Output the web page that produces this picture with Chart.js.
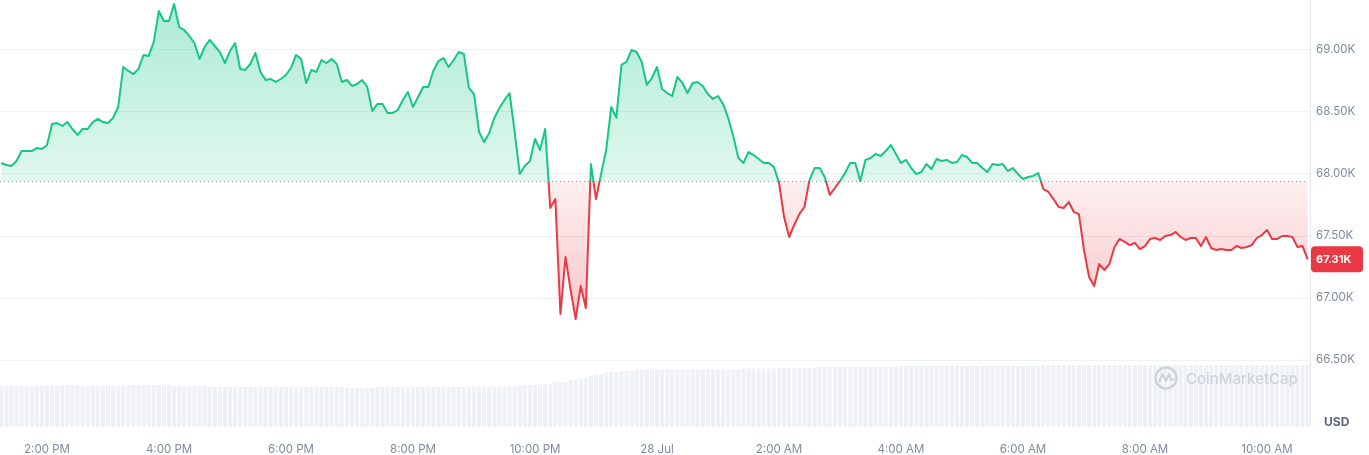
<!DOCTYPE html>
<html>
<head>
<meta charset="utf-8">
<script src="https://cdn.jsdelivr.net/npm/chart.js@4/dist/chart.umd.min.js"></script>
<style>
  html, body { margin: 0; padding: 0; background: #fff; }
  #wrap { width: 1369px; height: 455px; position: relative; }
</style>
</head>
<body>
<div id="wrap"><canvas id="priceChart"></canvas></div>
<script>
// BTC price, 5 minute samples from 13:15 (27 Jul) to 10:40 (28 Jul)
const startHour = 13.25;      // hours after 12:00 on 27 Jul
const stepHours = 5 / 60;
const baselinePrice = 67944;  // price 24h ago (dotted line)

const prices = [
  68089, 68073, 68065, 68105, 68185, 68185, 68185, 68210, 68202, 68234, 68403, 68411, 68387, 68419, 68363,
  68315, 68363, 68363, 68419, 68444, 68419, 68411, 68452, 68540, 68863, 68831, 68806, 68847, 68960, 68952,
  69064, 69314, 69234, 69234, 69371, 69185, 69161, 69113, 69056, 68927, 69024, 69081, 69032, 68984,
  68895, 68992, 69056, 68847, 68839, 68887, 68976, 68823, 68758, 68766, 68742, 68766, 68798, 68855, 68960,
  68927, 68734, 68839, 68823, 68919, 68895, 68927, 68887, 68742, 68758, 68710, 68726, 68758, 68702, 68508,
  68565, 68565, 68492, 68492, 68516, 68597, 68661, 68540, 68621, 68702, 68702, 68831,
  68911, 68935, 68863, 68919, 68984, 68968, 68694, 68645, 68339, 68258, 68331, 68452, 68532, 68597, 68653,
  68339, 68000, 68065, 68105, 68282, 68194, 68363, 67726, 67798, 66871, 67331, 67065, 66831, 67097, 66919,
  68081, 67798, 68000, 68194, 68540, 68452, 68879, 68903, 69000, 68984, 68903, 68718,
  68774, 68863, 68685, 68653, 68629, 68782, 68734, 68653, 68734, 68742, 68710, 68645, 68605, 68629, 68565,
  68452, 68306, 68129, 68089, 68177, 68153, 68121, 68089, 68089, 68056, 67930, 67653, 67492, 67589, 67677,
  67734, 67952, 68048, 68048, 67976, 67831, 67887, 67944, 68008, 68089, 68089, 67944, 68113,
  68129, 68161, 68145, 68185, 68234, 68161, 68089, 68113, 68048, 68000, 68016, 68081, 68040, 68121, 68105,
  68113, 68089, 68097, 68153, 68137, 68089, 68089, 68048, 68016, 68081, 68073, 68081, 68024, 68048, 68000,
  67960, 67976, 67984, 68008, 67879, 67855, 67798, 67734, 67726, 67774, 67694, 67677,
  67387, 67169, 67097, 67274, 67226, 67274, 67411, 67476, 67452, 67427, 67444, 67395, 67419, 67476, 67484,
  67468, 67500, 67508, 67532, 67492, 67468, 67484, 67484, 67419, 67492, 67403, 67387, 67395, 67387, 67387,
  67419, 67403, 67411, 67427, 67484, 67508, 67548, 67476, 67476, 67500, 67500, 67492, 67411, 67419, 67312
];

// 24h volume (billions USD), one bar per sample
const volumes = [
  20.5, 20.5, 20.5, 20.5, 20.5, 20.5, 20.5, 20.5, 20.5, 20.5, 20.5, 20.5,
  21.0, 21.0, 21.0, 21.0, 20.5, 20.5, 20.5, 20.5, 20.5, 20.5, 20.5, 20.5,
  21.0, 21.0, 21.0, 21.0, 21.0, 21.0, 21.0, 21.0, 21.0, 21.0, 20.5, 20.5, 20.5, 20.5, 20.5, 20.5, 20.5,
  20.0, 20.0, 20.0, 20.0, 20.0, 20.0, 20.0, 20.0, 20.0, 20.0, 20.0, 20.0, 20.0, 20.0,
  20.0, 20.0, 20.0, 20.0, 20.0, 20.0, 20.0, 20.0, 20.0, 20.0, 20.0, 20.0, 20.0, 20.0,
  19.5, 19.5, 19.5, 19.5, 19.5,
  20.0, 20.0, 20.0, 20.0, 20.0, 20.0, 20.0, 20.0, 20.0, 20.0, 20.0, 20.0, 20.0, 20.0, 20.0, 20.0, 20.0, 20.0, 20.0, 20.0,
  20.2, 20.2, 20.2, 20.2, 20.2, 20.2, 20.2, 20.2, 20.8, 20.8, 21.0, 21.0, 21.0, 21.4, 21.4,
  22.6, 22.6, 22.6, 23.6, 23.6, 24.6, 24.6, 25.3, 26.4, 26.4, 27.4, 27.4, 27.4, 28.0, 28.0, 28.0,
  28.8, 28.8, 28.8, 28.8, 28.8, 28.8, 28.8, 28.8, 28.8, 28.8, 28.8, 28.8, 28.8, 28.8, 28.8, 28.8, 28.8, 28.8, 28.8, 28.8, 28.8,
  29.3, 29.3, 29.3, 29.3, 29.3, 29.3, 29.3, 29.3, 29.6, 29.6, 29.6, 29.6, 29.6, 29.6, 29.6,
  30.3, 30.3, 30.3, 30.3, 30.3, 30.3, 30.3, 30.3, 30.3, 30.3, 30.3, 30.3, 30.3, 30.3, 30.3, 30.3,
  30.6, 30.6, 30.6, 30.6, 30.6, 30.6, 30.6, 30.6, 30.6, 30.6, 30.6, 30.6, 30.6, 30.6,
  30.6, 30.6, 30.6, 30.6, 30.6, 30.6, 30.6, 30.6, 30.6, 30.6, 30.6, 30.6, 30.6, 30.6,
  31.0, 31.0, 31.0, 31.0, 31.0, 31.0, 31.0, 31.0, 31.0, 31.0, 31.0, 31.0, 31.0, 31.0, 31.0, 31.0, 31.0, 31.0,
  31.0, 31.0, 31.0, 31.0, 31.0, 31.0, 31.0, 31.0, 31.0, 31.0, 31.0, 31.0, 31.0, 31.0, 31.0, 31.0, 31.0, 31.0,
  31.0, 31.0, 31.0, 31.0, 31.0, 31.0, 31.0, 31.0, 31.0, 31.0, 31.0, 31.0, 31.0, 31.0, 31.0, 31.0, 31.0
];

const times = prices.map((_, i) => startHour + i * stepHours);

const xTickHours = [14, 16, 18, 20, 22, 24, 26, 28, 30, 32, 34];
const xTickLabels = ['2:00 PM', '4:00 PM', '6:00 PM', '8:00 PM', '10:00 PM', '28 Jul',
                     '2:00 AM', '4:00 AM', '6:00 AM', '8:00 AM', '10:00 AM'];
const yTicks = [66500, 67000, 67500, 68000, 68500, 69000];

const GREEN = '#16c784';
const RED = '#ea3943';
const TEXT = '#808a9d';

function kLabel(v) {
    return (v / 1000).toFixed(2) + 'K';
}

// hard colour switch at the baseline
function baselineFrac(chart) {
    const area = chart.chartArea;
    const yb = chart.scales.y.getPixelForValue(baselinePrice);
    return Math.min(Math.max((yb - area.top) / (area.bottom - area.top), 0), 1);
}

function lineGradient(context) {
    const chart = context.chart;
    if (!chart.chartArea) return GREEN;
    const { ctx, chartArea } = chart;
    const f = baselineFrac(chart);
    const g = ctx.createLinearGradient(0, chartArea.top, 0, chartArea.bottom);
    g.addColorStop(0, GREEN);
    g.addColorStop(f, GREEN);
    g.addColorStop(f, RED);
    g.addColorStop(1, RED);
    return g;
}

function fillGradient(context) {
    const chart = context.chart;
    if (!chart.chartArea) return 'rgba(22,199,132,0.2)';
    const { ctx, chartArea } = chart;
    const f = baselineFrac(chart);
    const g = ctx.createLinearGradient(0, chartArea.top, 0, chartArea.bottom);
    g.addColorStop(0, 'rgba(22,199,132,0.36)');
    g.addColorStop(f, 'rgba(22,199,132,0.13)');
    g.addColorStop(f, 'rgba(234,57,67,0.08)');
    g.addColorStop(1, 'rgba(234,57,67,0.45)');
    return g;
}

// dotted baseline, watermark, price badge, currency label
const overlayPlugin = {
    id: 'overlay',
    beforeDatasetsDraw(chart) {
        const { ctx, chartArea, scales } = chart;
        const yb = Math.round(scales.y.getPixelForValue(baselinePrice)) + 0.5;
        const xEnd = scales.x.getPixelForValue(times[times.length - 1]);
        ctx.save();
        ctx.strokeStyle = '#9aa1b3';
        ctx.lineWidth = 1;
        ctx.setLineDash([1, 3]);
        ctx.beginPath();
        ctx.moveTo(chartArea.left, yb);
        ctx.lineTo(xEnd, yb);
        ctx.stroke();
        ctx.restore();
    },
    afterDraw(chart) {
        const { ctx, chartArea, scales } = chart;

        // watermark
        const wmY = chartArea.bottom - 49;
        const cx = chartArea.right - 144;
        ctx.save();
        ctx.fillStyle = '#cdd3de';
        ctx.strokeStyle = '#cdd3de';
        ctx.font = '500 15px Inter';
        ctx.textAlign = 'left';
        ctx.textBaseline = 'middle';
        ctx.fillText('CoinMarketCap', cx + 20, wmY + 1);
        ctx.lineWidth = 2.4;
        ctx.beginPath();
        ctx.arc(cx, wmY, 10.5, 0, Math.PI * 2);
        ctx.stroke();
        ctx.lineWidth = 2;
        ctx.lineJoin = 'round';
        ctx.beginPath();
        ctx.moveTo(cx - 7, wmY + 4);
        ctx.lineTo(cx - 3.5, wmY - 4);
        ctx.lineTo(cx, wmY + 3);
        ctx.lineTo(cx + 3, wmY - 4);
        ctx.lineTo(cx + 5, wmY + 2);
        ctx.lineTo(cx + 8, wmY + 1);
        ctx.stroke();
        ctx.restore();

        // current price badge
        const last = prices[prices.length - 1];
        const py = scales.y.getPixelForValue(last);
        const bx = chartArea.right + 1;
        ctx.save();
        ctx.fillStyle = RED;
        ctx.beginPath();
        ctx.roundRect(bx, py - 13, 52, 26, 4);
        ctx.fill();
        ctx.fillStyle = '#fff';
        ctx.font = 'bold 11px Inter';
        ctx.textBaseline = 'middle';
        ctx.fillText(kLabel(last), bx + 5, py + 0.5);
        ctx.restore();

        // currency
        ctx.save();
        ctx.fillStyle = '#58667e';
        ctx.font = 'bold 12px Inter';
        ctx.textBaseline = 'middle';
        ctx.fillText('USD', chartArea.right + 14, chartArea.bottom - 5);
        ctx.restore();
    }
};

const ctx = document.getElementById('priceChart');

new Chart(ctx, {
    type: 'line',
    data: {
        labels: times,
        datasets: [{
            label: 'Price',
            data: prices,
            yAxisID: 'y',
            borderColor: lineGradient,
            backgroundColor: fillGradient,
            borderWidth: 2,
            borderJoinStyle: 'round',
            pointRadius: 0,
            tension: 0,
            fill: { target: { value: baselinePrice } }
        }, {
            type: 'bar',
            label: 'Volume',
            data: volumes,
            yAxisID: 'yVol',
            backgroundColor: '#eff2f5',
            barPercentage: 0.8,
            categoryPercentage: 1.0
        }]
    },
    options: {
        responsive: true,
        maintainAspectRatio: false,
        animation: false,
        layout: { padding: 0 },
        plugins: {
            legend: { display: false },
            tooltip: { enabled: false }
        },
        scales: {
            x: {
                type: 'linear',
                min: 14 - 47 / 61,
                max: 14 + 1263 / 61,
                offset: false,
                grid: { display: false },
                border: { display: false },
                ticks: {
                    color: TEXT,
                    font: { family: 'Inter', size: 11.5 },
                    padding: 8,
                    maxRotation: 0,
                    autoSkip: false,
                    callback: (v) => {
                        const i = xTickHours.indexOf(v);
                        return i >= 0 ? xTickLabels[i] : '';
                    }
                },
                afterBuildTicks: (scale) => {
                    scale.ticks = xTickHours.map(v => ({ value: v }));
                },
                afterFit: (scale) => {
                    scale.height = 28;
                    scale.paddingLeft = 0;
                    scale.paddingRight = 0;
                }
            },
            y: {
                type: 'linear',
                position: 'right',
                min: 65960,
                max: 69403,
                grid: { color: '#eff2f5', drawTicks: false },
                border: { color: '#e6e9ef' },
                ticks: {
                    color: TEXT,
                    font: { family: 'Inter', size: 11.5 },
                    padding: 6,
                    callback: (v) => kLabel(v)
                },
                afterBuildTicks: (scale) => {
                    scale.ticks = yTicks.map(v => ({ value: v }));
                },
                afterFit: (scale) => {
                    scale.width = 59;
                    scale.paddingTop = 0;
                    scale.paddingBottom = 0;
                }
            },
            yVol: {
                type: 'linear',
                display: false,
                min: 0,
                max: 213.5
            }
        }
    },
    plugins: [overlayPlugin]
});
</script>
</body>
</html>
